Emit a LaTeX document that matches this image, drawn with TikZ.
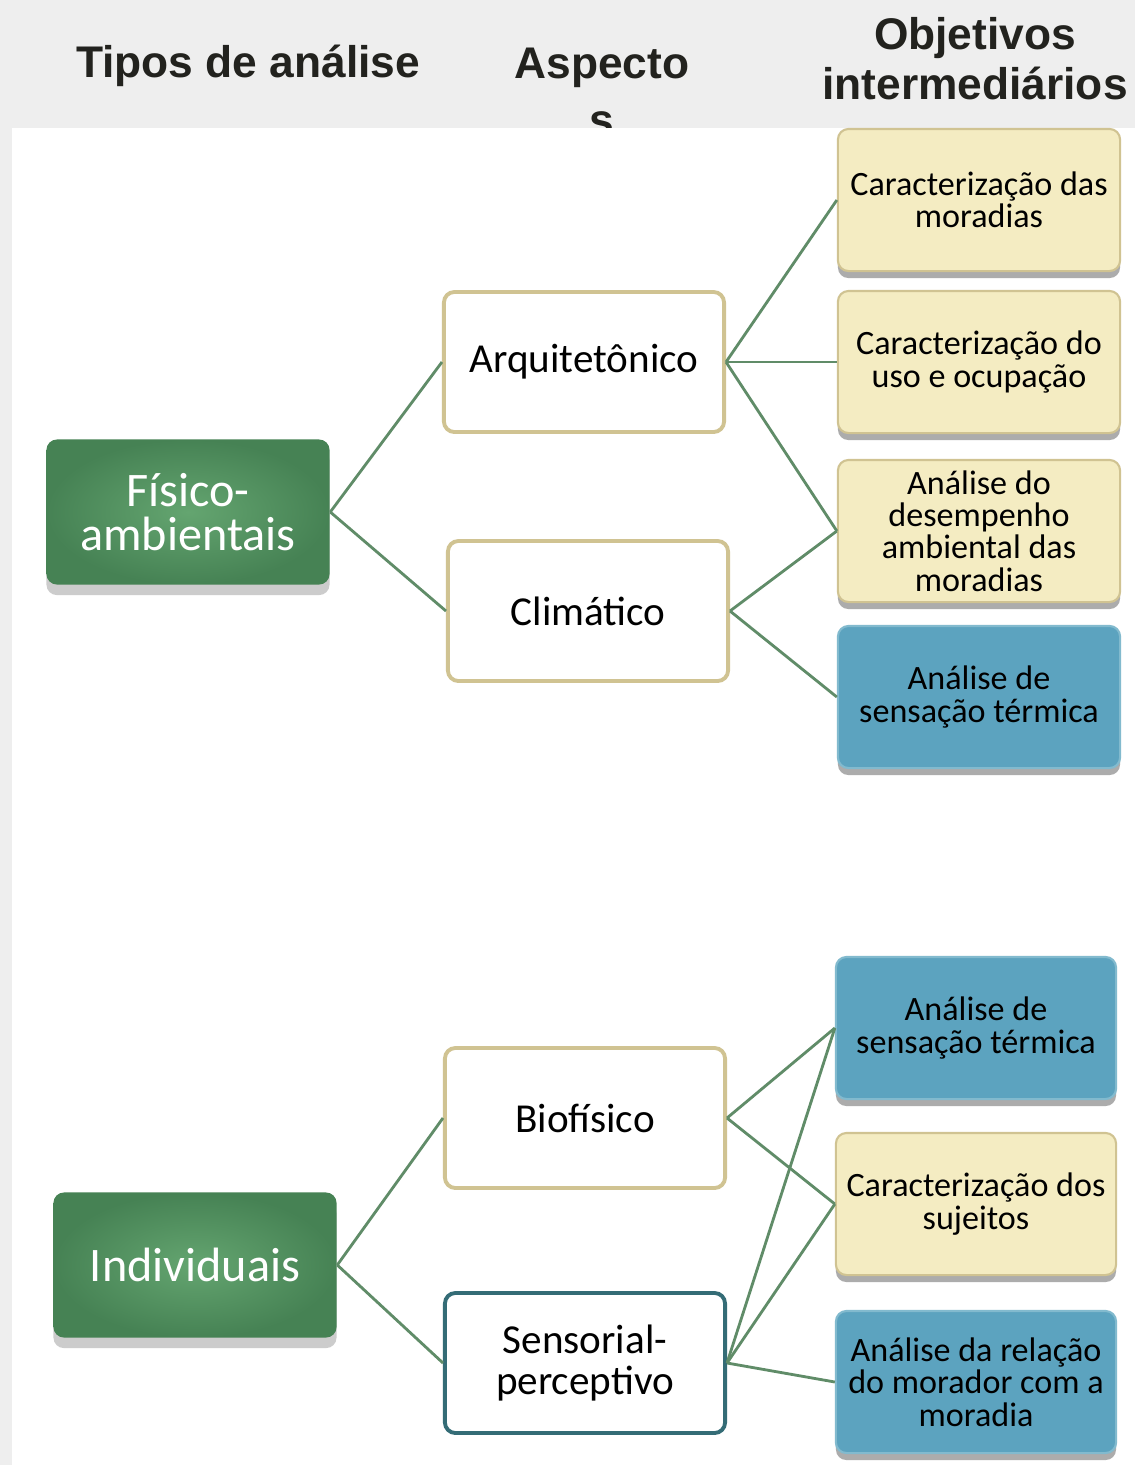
\documentclass[tikz,border=0pt]{standalone}
\usepackage{fontspec}
\setmainfont{Carlito}
\newfontfamily\headfont{Liberation Sans}
\usetikzlibrary{shadows}

\definecolor{bggray}{RGB}{238,238,238}
\definecolor{headtext}{RGB}{34,34,30}
\definecolor{darkgreen}{RGB}{70,130,84}
\definecolor{lightgreen}{RGB}{100,165,112}
\definecolor{sand}{RGB}{244,236,194}
\definecolor{sandline}{RGB}{208,195,146}
\definecolor{steel}{RGB}{92,163,191}
\definecolor{steelline}{RGB}{130,186,206}
\definecolor{tealline}{RGB}{52,108,118}
\definecolor{linkgreen}{RGB}{96,140,104}

\begin{document}
\begin{tikzpicture}
  [x=0.01cm, y=-0.01cm,
   head/.style={font=\headfont\bfseries\fontsize{12.6}{14.2}\selectfont, text=headtext, align=center, inner sep=0pt},
   box/.style={rectangle, rounded corners=3pt, align=center, inner sep=2pt},
   tipo/.style={box, minimum width=2.83cm, minimum height=1.45cm, shading=radial,
     inner color=lightgreen, outer color=darkgreen, text=white, font=\fontsize{13.7}{12.6}\selectfont,
     drop shadow={shadow xshift=0pt, shadow yshift=-3pt, opacity=.4}},
   aspecto/.style={box, fill=white, draw=sandline, line width=1.1pt, minimum width=2.8cm,
     minimum height=1.4cm, font=\fontsize{11.7}{11.5}\selectfont},
   objetivo/.style={box, fill=sand, draw=sandline, line width=.6pt, minimum width=2.82cm,
     minimum height=1.42cm, font=\fontsize{9.7}{9.2}\selectfont,
     drop shadow={shadow xshift=0pt, shadow yshift=-2pt, opacity=.65}},
   termico/.style={objetivo, fill=steel, draw=steelline},
   link/.style={draw=linkgreen, line width=.8pt}]

  \useasboundingbox (0,0) rectangle (1135,1465);
  \fill[bggray] (0,0) rectangle (1135,1465);

  \node[head] (tipos) at (248,66) {Tipos de análise};
  \node[head] (aspectos) at (602,92) {Aspecto\\[1.8pt]s};
  \node[head] (objetivos) at (975,59) {Objetivos\\intermediários};

  \fill[white] (12,128) rectangle (1135,1465);

  \node[tipo] (fisico) at (188,512) {Físico-\\ambientais};
  \node[tipo] (indiv) at (195,1265) {Individuais};

  \node[aspecto] (arqui) at (584,362) {Arquitetônico};
  \node[aspecto] (clima) at (588,611) {Climático};
  \node[aspecto] (bio) at (585,1118) {Biofísico};
  \node[aspecto, draw=tealline] (senso) at (585,1363) {Sensorial-\\perceptivo};

  \node[objetivo] (moradias) at (979,200) {Caracterização das\\moradias};
  \node[objetivo] (uso) at (979,362) {Caracterização do\\uso e ocupação};
  \node[objetivo] (desemp) at (979,531) {Análise do\\desempenho\\ambiental das\\moradias};
  \node[termico] (sens1) at (979,697) {Análise de\\sensação térmica};
  \node[termico, minimum width=2.8cm] (sens2) at (976,1028) {Análise de\\sensação térmica};
  \node[objetivo, minimum width=2.8cm] (sujeitos) at (976,1204) {Caracterização dos\\sujeitos};
  \node[termico, minimum width=2.8cm] (relacao) at (976,1382) {Análise da relação\\do morador com a\\moradia};

  \foreach \a/\b in {fisico/arqui, fisico/clima, indiv/bio, indiv/senso,
                     arqui/moradias, arqui/uso, arqui/desemp, clima/desemp, clima/sens1,
                     bio/sens2, bio/sujeitos, senso/sens2, senso/sujeitos, senso/relacao}
    \draw[link] (\a.east) -- (\b.west);
\end{tikzpicture}
\end{document}
